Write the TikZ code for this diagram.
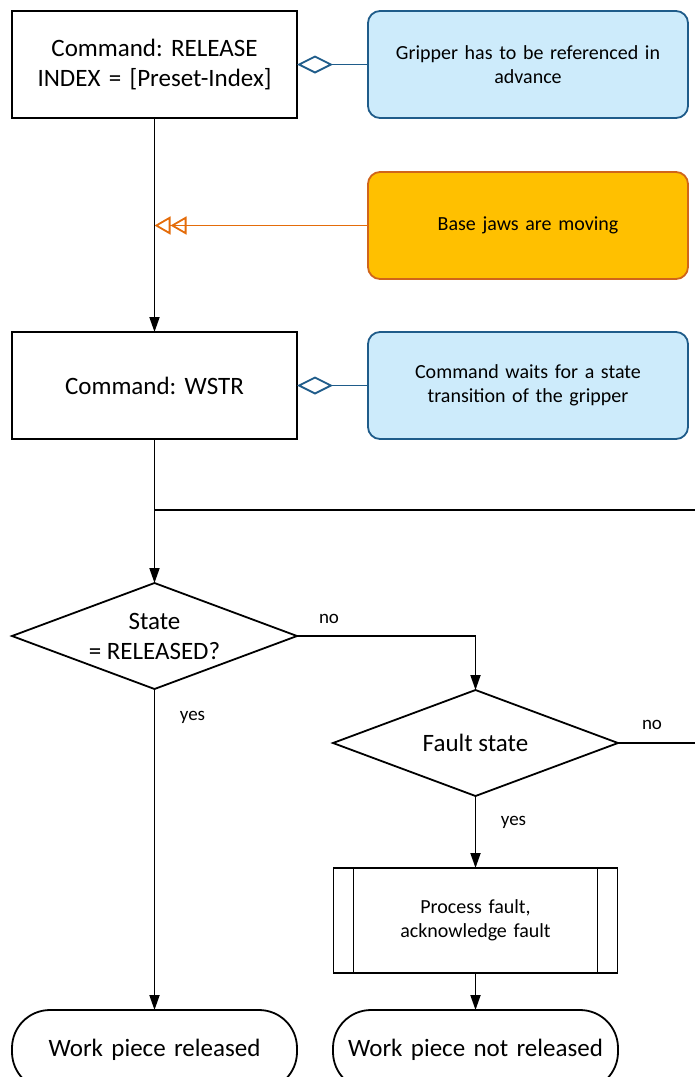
\documentclass[tikz,border=0pt]{standalone}
\usepackage{fontspec}
\setmainfont{Carlito}
\frenchspacing
\usetikzlibrary{arrows.meta, positioning, shapes.geometric}
\definecolor{noteblue}{HTML}{CDEBFB}
\definecolor{noteblueline}{HTML}{1F5C8A}
\definecolor{noteorange}{HTML}{FFC000}
\definecolor{noteorangeline}{HTML}{D0651A}
\definecolor{arroworange}{HTML}{E46C0A}
\tikzset{
    >={Triangle[width=10pt,length=15pt]},
    font=\fontsize{25}{30}\selectfont,
    outer sep=0pt,
    flow_cmd/.style={
        rectangle,
        draw=black,
        fill=white,
        line width=1.8pt,
        minimum width=285pt,
        minimum height=107pt,
        text width=260pt,
        align=center
    },
    flow_note/.style={
        rectangle,
        rounded corners=12pt,
        draw=noteblueline,
        fill=noteblue,
        line width=1.8pt,
        minimum width=320pt,
        minimum height=107pt,
        text width=300pt,
        align=center,
        font=\fontsize{20}{24}\selectfont
    },
    flow_event/.style={
        flow_note,
        draw=noteorangeline,
        fill=noteorange
    },
    flow_decision/.style={
        diamond,
        draw=black,
        fill=white,
        line width=1.8pt,
        aspect=2.7,
        inner sep=0pt,
        minimum width=285pt,
        minimum height=106pt,
        align=center
    },
    flow_process/.style={
        rectangle,
        draw=black,
        fill=white,
        line width=1.8pt,
        minimum width=284pt,
        minimum height=105pt,
        text width=220pt,
        align=center,
        font=\fontsize{20}{24}\selectfont,
        path picture={
            \draw[line width=1.8pt] ([xshift=20pt]path picture bounding box.north west)
                -- ([xshift=20pt]path picture bounding box.south west);
            \draw[line width=1.8pt] ([xshift=-20pt]path picture bounding box.north east)
                -- ([xshift=-20pt]path picture bounding box.south east);
        }
    },
    flow_end/.style={
        rectangle,
        rounded corners=38pt,
        draw=black,
        fill=white,
        line width=1.8pt,
        minimum width=285pt,
        minimum height=80pt,
        text width=260pt,
        align=center
    },
    flow_arrow/.style={
        ->,
        line width=1.8pt
    },
    flow_line/.style={
        line width=1.8pt
    },
    note_link/.style={
        -{Diamond[open, length=36pt, width=18pt]},
        draw=noteblueline,
        line width=1.8pt
    },
    event_link/.style={
        -{Triangle[open, length=16pt, width=18pt] Triangle[open, length=16pt, width=18pt]},
        draw=arroworange,
        line width=1.8pt
    },
    flow_label/.style={
        font=\fontsize{19}{23}\selectfont
    }
}

\begin{document}
\begin{tikzpicture}

\clip (0,0) rectangle (695pt,-1077pt);

% --- Commands and notes ---
\node[flow_cmd] at (154.5pt,-64.5pt) (Release)
  {Command: RELEASE\\INDEX = [Preset-Index]};
\node[flow_note, right=71pt of Release] (NoteRef)
  {Gripper has to be referenced in\\advance};
\node[flow_event, below=54pt of NoteRef] (Moving)
  {Base jaws are moving};
\node[flow_cmd, below=214pt of Release] (Wstr)
  {Command: WSTR};
\node[flow_note, right=71pt of Wstr] (NoteWait)
  {Command waits for a state\\transition of the gripper};

% --- Decisions ---
\node[flow_decision, below=144pt of Wstr] (State)
  {State\\= RELEASED?};
\node[flow_decision, right=36pt of State, yshift=-107pt] (Fault)
  {Fault state};
\node[flow_process, below=72pt of Fault] (Process)
  {Process fault,\\acknowledge fault};

% --- Ends ---
\node[flow_end, below=37pt of Process] (NotReleased)
  {Work piece not released};
\node[flow_end, left=36pt of NotReleased] (Released)
  {Work piece released};

% --- Helper points at the right edge ---
\coordinate (LoopEdge) at (695pt,-510pt);
\coordinate (LoopJoin) at (LoopEdge -| State.north);
\coordinate (FaultEdge) at (Fault.east -| LoopEdge);
\coordinate (MovingHit) at (Moving.west -| Release.south);
\coordinate (StateTurn) at (State.east -| Fault.north);

% --- Edges: notes ---
\draw[note_link] (NoteRef.west) -- (Release.east);
\draw[note_link] (NoteWait.west) -- (Wstr.east);
\draw[event_link] (Moving.west) -- (MovingHit);

% --- Edges: main flow ---
\draw[flow_arrow] (Release) -- (Wstr);
\draw[flow_arrow] (Wstr) -- (State);
\draw[flow_line] (LoopEdge) -- (LoopJoin);
\draw[flow_arrow] (State.east) -- (StateTurn) -- (Fault.north);
\draw[flow_arrow] (State) -- (Released);
\draw[flow_line] (Fault.east) -- (FaultEdge);
\draw[flow_arrow] (Fault) -- (Process);
\draw[flow_arrow] (Process) -- (NotReleased);

% --- Labels ---
\node[flow_label] at ([xshift=32pt, yshift=17pt]State.east) (StateNo) {no};
\node[flow_label] at ([xshift=38pt, yshift=-28pt]State.south) (StateYes) {yes};
\node[flow_label] at ([xshift=34pt, yshift=18pt]Fault.east) (FaultNo) {no};
\node[flow_label] at ([xshift=38pt, yshift=-26pt]Fault.south) (FaultYes) {yes};

\end{tikzpicture}
\end{document}
